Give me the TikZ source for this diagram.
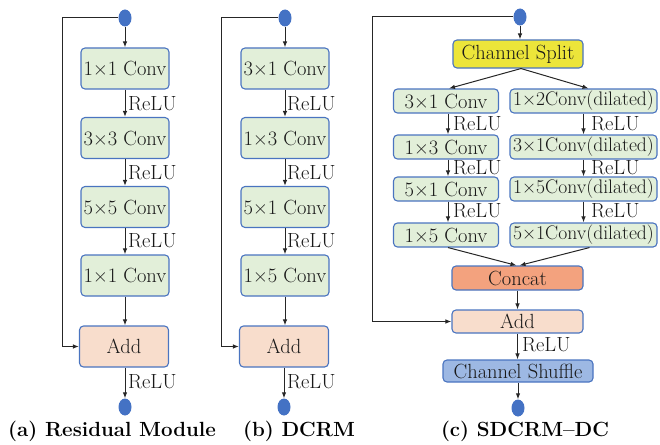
\documentclass[tikz,border=0pt]{standalone}
\usetikzlibrary{arrows.meta,shapes.geometric}
\definecolor{bord}{HTML}{4A74C0}
\definecolor{convg}{HTML}{E2EFD9}
\definecolor{addp}{HTML}{F8DDCC}
\definecolor{concatc}{HTML}{F3A27E}
\definecolor{splity}{HTML}{ECE53A}
\definecolor{shufb}{HTML}{9DB8E3}
\definecolor{dotb}{HTML}{4472C4}
\begin{document}
\begin{tikzpicture}[x=1pt,y=-1pt,
  box/.style={draw=bord, line width=1.1pt, rounded corners=4pt, inner sep=0pt,
    font=\fontsize{20.5}{22}\selectfont, text=black!90},
  conv/.style={box, fill=convg, minimum width=88pt, minimum height=41pt},
  addbox/.style={box, fill=addp, minimum width=89pt, minimum height=41pt},
  lconv/.style={box, fill=convg, minimum width=105pt, minimum height=24pt},
  rconv/.style={box, fill=convg, minimum width=147pt, minimum height=24pt, font=\fontsize{19.6}{21}\selectfont},
  wide/.style={box, minimum width=131pt, minimum height=24pt},
  dot/.style={ellipse, fill=dotb, draw=none, minimum width=13pt, minimum height=17pt, inner sep=0pt},
  arr/.style={-{Latex[length=6pt,width=4.5pt]}, line width=1pt, draw=black!85},
  relu/.style={anchor=west, inner sep=0pt, font=\fontsize{20.5}{22}\selectfont, text=black!90},
  captext/.style={inner sep=0pt, font=\fontsize{20.5}{22}\selectfont\bfseries, text=black}]
\useasboundingbox (0,0) rectangle (660,444);

% ---------- (a) ----------
\node[dot] (ta) at (125,18) {};
\node[conv] (a1) at (125,68.5) {1×1 Conv};
\node[conv] (a2) at (125,138) {3×3 Conv};
\node[conv] (a3) at (125,207) {5×5 Conv};
\node[conv] (a4) at (125,275.5) {1×1 Conv};
\node[addbox] (aadd) at (124,346.5) {Add};
\node[dot] (ba) at (125,407) {};
\coordinate (la) at (62,18);
\draw[arr] (ta.west) -- (la) |- (aadd.west);
\draw[arr] (ta.south) -- (a1.north);
\draw[arr] (a1) -- (a2);
\draw[arr] (a2) -- (a3);
\draw[arr] (a3) -- (a4);
\draw[arr] (a4.south) -- (a4.south |- aadd.north);
\draw[arr] (aadd.south -| ba) -- (ba.north);
\node[relu] (ra1) at (128,104) {ReLU};
\node[relu] (ra2) at (128,173) {ReLU};
\node[relu] (ra3) at (128,241) {ReLU};
\node[relu] (ra4) at (128,382) {ReLU};
\node[captext] (capa) at (112,431) {(a) Residual Module};

% ---------- (b) ----------
\node[dot] (tb) at (285,18) {};
\node[conv] (b1) at (285,68.5) {3×1 Conv};
\node[conv] (b2) at (285,138) {1×3 Conv};
\node[conv] (b3) at (285,207) {5×1 Conv};
\node[conv] (b4) at (285,275.5) {1×5 Conv};
\node[addbox] (badd) at (284,346.5) {Add};
\node[dot] (bb) at (284,407) {};
\coordinate (lb) at (221,18);
\draw[arr] (tb.west) -- (lb) |- (badd.west);
\draw[arr] (tb.south) -- (b1.north);
\draw[arr] (b1) -- (b2);
\draw[arr] (b2) -- (b3);
\draw[arr] (b3) -- (b4);
\draw[arr] (b4.south) -- (b4.south |- badd.north);
\draw[arr] (badd.south -| bb) -- (bb.north);
\node[relu] (rb1) at (287,104) {ReLU};
\node[relu] (rb2) at (287,173) {ReLU};
\node[relu] (rb3) at (287,241) {ReLU};
\node[relu] (rb4) at (287,382) {ReLU};
\node[captext] (capb) at (299,431) {(b) DCRM};

% ---------- (c) ----------
\node[dot] (tc) at (520,17) {};
\node[box, fill=splity, minimum width=130pt, minimum height=28pt] (split) at (518,54) {Channel Split};
\node[lconv] (l1) at (446,101) {3×1 Conv};
\node[lconv] (l2) at (446,147) {1×3 Conv};
\node[lconv] (l3) at (446,189) {5×1 Conv};
\node[lconv] (l4) at (446,235) {1×5 Conv};
\node[rconv] (r1) at (583.5,101) {1×2Conv(dilated)};
\node[rconv] (r2) at (583.5,147) {3×1Conv(dilated)};
\node[rconv] (r3) at (583.5,189) {1×5Conv(dilated)};
\node[rconv] (r4) at (583.5,235) {5×1Conv(dilated)};
\node[wide, fill=concatc] (concat) at (517.5,278) {Concat};
\node[wide, fill=addp, minimum height=23pt] (cadd) at (517.5,321.5) {Add};
\node[box, fill=shufb, minimum width=150pt, minimum height=22pt] (shuf) at (518,371) {Channel Shuffle};
\node[dot] (bc) at (518,408) {};
\coordinate (lc) at (372,17);
\draw[arr] (tc.west) -- (lc) |- (cadd.west);
\draw[arr] (tc.south) -- (tc.south |- split.north);
\draw[arr] ([xshift=3pt]split.south) -- ([xshift=3pt]l1.north);
\draw[arr] ([xshift=3pt]split.south) -- ([xshift=5pt]r1.north);
\draw[arr] ([xshift=2pt]l1.south) -- ([xshift=2pt]l2.north);
\draw[arr] ([xshift=2pt]l2.south) -- ([xshift=2pt]l3.north);
\draw[arr] ([xshift=2pt]l3.south) -- ([xshift=2pt]l4.north);
\draw[arr] (r1) -- (r2);
\draw[arr] (r2) -- (r3);
\draw[arr] (r3) -- (r4);
\draw[arr] ([xshift=2pt]l4.south) -- ([xshift=-1pt]concat.north);
\draw[arr] ([xshift=6pt]r4.south) -- ([xshift=2pt]concat.north);
\draw[arr] (concat) -- (cadd);
\draw[arr] (cadd.south) -- (cadd.south |- shuf.north);
\draw[arr] (shuf.south) -- (bc.north);
\node[relu] (rl1) at (453,124) {ReLU};
\node[relu] (rl2) at (453,168) {ReLU};
\node[relu] (rl3) at (453,211) {ReLU};
\node[relu] (rr1) at (591,124) {ReLU};
\node[relu] (rr2) at (591,168) {ReLU};
\node[relu] (rr3) at (591,211) {ReLU};
\node[relu] (rc4) at (522,345) {ReLU};
\node[captext] (capc) at (525,431) {(c) SDCRM--DC};
\end{tikzpicture}
\end{document}
